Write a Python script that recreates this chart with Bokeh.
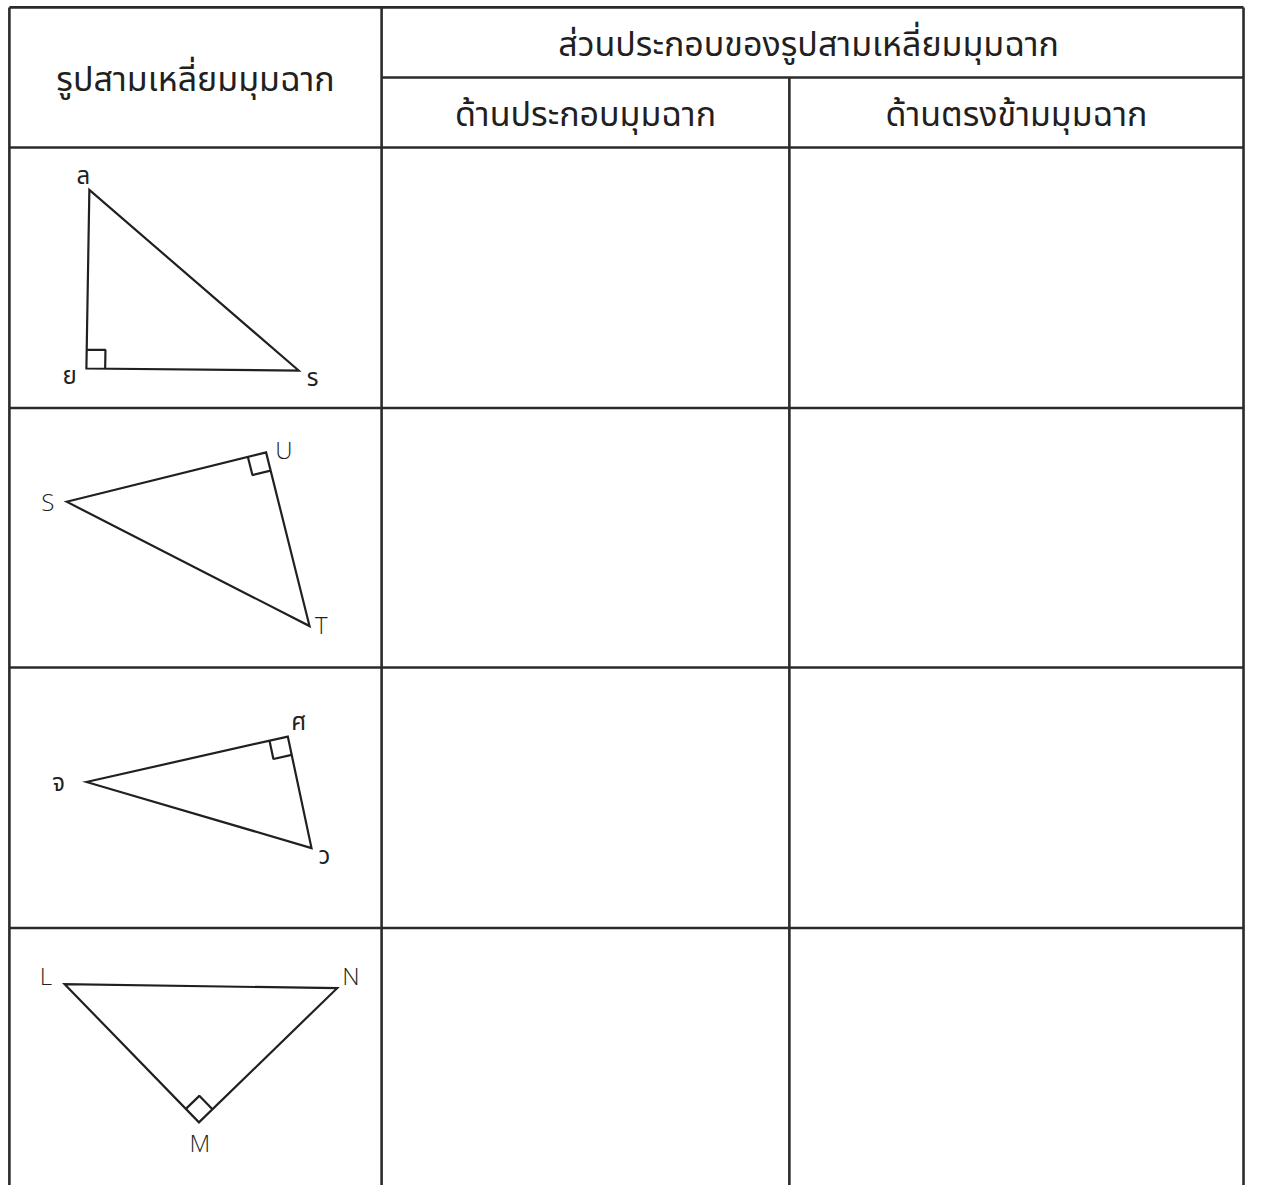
from bokeh.plotting import figure
from bokeh.models import Range1d
from bokeh.core.properties import value
from bokeh.embed import file_html
from bokeh.resources import INLINE

# ---- table structure (reference pixel coordinates) ----
col_edges = [9, 386, 799, 1259]
row_edges = [7, 149, 413, 676, 940]
sub_header_y = 78
table_bottom = 1201

header_main = "รูปสามเหลี่ยมมุมฉาก"
header_group = "ส่วนประกอบของรูปสามเหลี่ยมมุมฉาก"
header_sub = ["ด้านประกอบมุมฉาก", "ด้านตรงข้ามมุมฉาก"]

# ---- triangles: vertex order = [A, right-angle vertex, B] ----
tri_x = [[90, 87, 302], [67, 269, 313], [87, 291, 315], [65, 201, 341]]
tri_y = [[192, 373, 375], [508, 458, 634], [792, 746, 859], [997, 1137, 1001]]
tri_names = [["ล", "ย", "ร"], ["S", "U", "T"], ["จ", "ศ", "ว"], ["L", "M", "N"]]
label_x = [[84, 70, 316], [48, 287, 325], [59, 302, 328], [46, 202, 355]]
label_y = [[176, 379, 381], [508, 455, 632], [792, 730, 866], [988, 1157, 988]]
mark_size = 19

LINE = "#2b2b2b"
INK = "#231f20"
THAI_FONT = ("'Noto Sans Thai Light', 'Noto Sans Thai', 'Noto Sans Thai Looped', "
             "'Loma', 'Garuda', 'Noto Sans', sans-serif")
LABEL_FONT = ("'Noto Sans Light', 'Open Sans Light', 'Noto Sans Thai Light', "
              "'Noto Sans Thai', 'Noto Sans', sans-serif")

p = figure(width=1245, height=1185, output_backend="svg", toolbar_location=None,
           x_range=Range1d(0, 1261), y_range=Range1d(1201, 0),
           min_border=0, min_border_left=0, min_border_right=0,
           min_border_top=0, min_border_bottom=0)
p.axis.visible = False
p.grid.visible = False
p.outline_line_color = None
p.background_fill_color = "white"
p.border_fill_color = "white"

# table lines
x0s, y0s, x1s, y1s = [], [], [], []
for y in row_edges:
    x0s.append(col_edges[0]); y0s.append(y); x1s.append(col_edges[-1]); y1s.append(y)
x0s.append(col_edges[1]); y0s.append(sub_header_y); x1s.append(col_edges[-1]); y1s.append(sub_header_y)
for i, x in enumerate(col_edges):
    top = sub_header_y if i == 2 else row_edges[0]
    x0s.append(x); y0s.append(top); x1s.append(x); y1s.append(table_bottom)
p.segment(x0=x0s, y0=y0s, x1=x1s, y1=y1s, line_color=LINE, line_width=2.6)

# header texts
p.text(x=[(col_edges[0] + col_edges[1]) / 2], y=[(row_edges[0] + row_edges[1]) / 2 + 3],
       text=[header_main], text_font=value(THAI_FONT), text_font_size="34px",
       text_align="center", text_baseline="middle", text_color=INK)
p.text(x=[(col_edges[1] + col_edges[3]) / 2 - 4], y=[(row_edges[0] + sub_header_y) / 2 + 3],
       text=[header_group], text_font=value(THAI_FONT), text_font_size="34px",
       text_align="center", text_baseline="middle", text_color=INK)
p.text(x=[(col_edges[1] + col_edges[2]) / 2, (col_edges[2] + col_edges[3]) / 2],
       y=[(sub_header_y + row_edges[1]) / 2 + 3] * 2,
       text=header_sub, text_font=value(THAI_FONT), text_font_size="34px",
       text_align="center", text_baseline="middle", text_color=INK)

# triangles
p.patches(xs=[t + [t[0]] for t in tri_x], ys=[t + [t[0]] for t in tri_y],
          fill_color=None, line_color=INK, line_width=2.2, line_join="miter")

# right-angle markers derived from the vertices
mx, my = [], []
for xs, ys in zip(tri_x, tri_y):
    cx, cy = xs[1], ys[1]
    ux, uy = xs[0] - cx, ys[0] - cy
    vx, vy = xs[2] - cx, ys[2] - cy
    lu = (ux ** 2 + uy ** 2) ** 0.5
    lv = (vx ** 2 + vy ** 2) ** 0.5
    ux, uy = ux / lu * mark_size, uy / lu * mark_size
    vx, vy = vx / lv * mark_size, vy / lv * mark_size
    mx.append([cx + ux, cx + ux + vx, cx + vx])
    my.append([cy + uy, cy + uy + vy, cy + vy])
p.multi_line(xs=mx, ys=my, line_color=INK, line_width=2.2)

# vertex labels
lx = [v for row in label_x for v in row]
ly = [v for row in label_y for v in row]
lt = [v for row in tri_names for v in row]
p.text(x=lx, y=ly, text=lt, text_font=value(LABEL_FONT), text_font_size="24px",
       text_align="center", text_baseline="middle", text_color=INK)

open("out.html", "w").write(file_html(p, INLINE))
